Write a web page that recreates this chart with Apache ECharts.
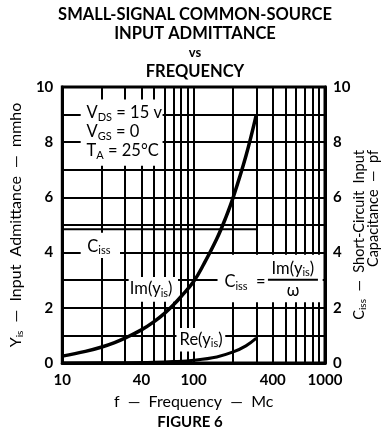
<!DOCTYPE html>
<html>
<head>
<meta charset="utf-8">
<script src="https://cdn.jsdelivr.net/npm/echarts@6/dist/echarts.min.js"></script>
<style>
html,body{margin:0;padding:0;background:#fff;}
#chart{width:383px;height:430px;}
</style>
</head>
<body>
<div id="chart"></div>
<script>
// ---- data ----
const imFreq   = [10, 15, 20, 25, 30, 40, 50, 60, 70, 80, 100, 120, 150, 175, 200, 250, 300];
const imValues = [0.25, 0.42, 0.58, 0.74, 0.9, 1.2, 1.5, 1.8, 2.1, 2.4, 2.95, 3.6, 4.5, 5.25, 6.0, 7.5, 9.0];
const reFreq   = [10, 30, 50, 70, 100, 150, 200, 250, 300];
const reValues = [0.0, 0.01, 0.025, 0.05, 0.1, 0.22, 0.4, 0.62, 0.9];
const cissFreq   = [10, 300];
const cissValues = [4.85, 4.85];
const xGridLines = [20, 30, 40, 50, 60, 70, 80, 90, 100, 200, 300, 400, 500, 600, 700, 800, 900];
const yGridLines = [1, 2, 3, 4, 5, 6, 7, 8, 9];
const xTickLabels = [10, 40, 100, 400, 1000];
const yTickLabels = [0, 2, 4, 6, 8, 10];

const FONT = 'Lato';
const INK = '#000';
const sub = {fontSize: 11, fontFamily: FONT, color: INK, opacity: 1, textBorderWidth: 0, padding: [8, 0, 0, 0]};
const nrm = {fontSize: 16.5, fontFamily: FONT, color: INK, opacity: 1, textBorderWidth: 0};
const axName = {fontSize: 16, fontFamily: FONT, color: INK};
const axSub = {fontSize: 10, fontFamily: FONT, color: INK, padding: [8, 0, 0, 0]};

const chart = echarts.init(document.getElementById('chart'), null, {renderer: 'canvas'});

const pairs = (xs, ys) => xs.map((x, i) => [x, ys[i]]);

// white label boxes that hide the grid behind the annotations (data space corners)
const whiteBoxes = [
  [[13.8, 9.55], [58, 7.15]],
  [[13.8, 4.72], [27.5, 3.8]],
  [[32, 3.12], [76, 2.22]],
  [[74, 1.27], [174, 0.42]],
  [[152, 3.92], [960, 2.2]]
];

const annotations = [
  { // conditions
    value: [15.3, 8.37],
    label: {
      position: 'right', distance: 0,
      formatter: '{n|V}{s|DS}{n| = 15 v}\n{n|V}{s|GS}{n| = 0}\n{n|T}{s|A}{n| = 25°C}',
      lineHeight: 19,
      rich: {n: Object.assign({}, nrm, {lineHeight: 19}), s: Object.assign({}, sub)}
    }
  },
  { // Ciss label
    value: [15.5, 4.22],
    label: {position: 'right', distance: 0, formatter: '{n|C}{s|iss}', rich: {n: nrm, s: sub}}
  },
  { // Im(yis)
    value: [47.5, 2.68],
    label: {position: 'inside', formatter: '{n|Im(y}{s|is}{n|)}', rich: {n: nrm, s: sub}}
  },
  { // Re(yis)
    value: [114, 0.86],
    label: {position: 'inside', formatter: '{n|Re(y}{s|is}{n|)}', rich: {n: nrm, s: sub}}
  },
  { // Ciss =
    value: [246, 2.93],
    label: {position: 'inside', formatter: '{n|C}{s|iss}{n|  =}', rich: {n: nrm, s: sub}}
  },
  { // fraction
    value: [570, 3.02],
    label: {
      position: 'inside', align: 'center',
      formatter: '{n|Im(y}{s|is}{n|)}\n{bar|}\n{w|ω}',
      rich: {
        n: Object.assign({}, nrm, {lineHeight: 16}),
        s: Object.assign({}, sub, {lineHeight: 16}),
        bar: {width: 50, height: 2, backgroundColor: INK, lineHeight: 6},
        w: Object.assign({}, nrm, {lineHeight: 16})
      }
    }
  }
];

const numStyle = {fontFamily: FONT, fontWeight: 'bold', fontSize: 15, color: INK};

const option = {
  animation: false,
  backgroundColor: '#fff',
  title: {
    left: 190, top: 0, textAlign: 'center',
    text: '{t|SMALL-SIGNAL COMMON-SOURCE}\n{t|INPUT ADMITTANCE}\n{v|vs}\n{t|FREQUENCY}',
    textStyle: {
      rich: {
        t: {fontFamily: FONT, fontWeight: 'bold', fontSize: 16.5, color: INK, lineHeight: 19},
        v: {fontFamily: FONT, fontWeight: 'bold', fontSize: 13, color: INK, lineHeight: 19}
      }
    }
  },
  grid: {left: 56, right: 58, top: 87, bottom: 67, show: true, borderColor: INK, borderWidth: 3, backgroundColor: '#fff'},
  xAxis: {
    type: 'log', logBase: 10, min: 10, max: 1000,
    name: 'f  —  Frequency  —  Mc', nameLocation: 'middle', nameGap: 31,
    nameTextStyle: axName,
    axisLine: {show: true, lineStyle: {color: INK, width: 3}},
    axisTick: {show: false},
    axisLabel: Object.assign({customValues: xTickLabels, margin: 10, formatter: v => String(v)}, numStyle),
    splitLine: {show: false},
    minorTick: {show: false}, minorSplitLine: {show: false}
  },
  yAxis: [
    {
      type: 'value', min: 0, max: 10, interval: 1, position: 'left',
      name: '{n|Y}{s|is}{n|  —  Input  Admittance  —  mmho}', nameLocation: 'middle', nameGap: 36,
      nameTextStyle: {rich: {n: axName, s: axSub}},
      axisLine: {show: true, lineStyle: {color: INK, width: 3}},
      axisTick: {show: false},
      axisLabel: Object.assign({
        margin: 9,
        formatter: v => (yTickLabels.indexOf(v) >= 0 ? String(v) : '')
      }, numStyle),
      splitLine: {show: false}
    },
    {
      type: 'value', min: 0, max: 10, interval: 2, position: 'right',
      axisLine: {show: true, lineStyle: {color: INK, width: 3}},
      axisTick: {show: false},
      axisLabel: Object.assign({margin: 8}, numStyle),
      splitLine: {show: false}
    }
  ],
  graphic: [
    {
      type: 'text', x: 366, y: 150, rotation: Math.PI / 2,
      style: {
        text: '{n|C}{s|iss}{n|  —  Short-Circuit  Input}\n{n|Capacitance  —  pf}',
        align: 'right', verticalAlign: 'middle', lineHeight: 14,
        rich: {n: Object.assign({}, axName, {lineHeight: 14, fontSize: 14.5}), s: Object.assign({}, axSub, {lineHeight: 14})}
      }
    },
    {
      type: 'text', x: 190, y: 422,
      style: {text: 'FIGURE 6', align: 'center', verticalAlign: 'middle', fontFamily: FONT, fontWeight: 'bold', fontSize: 15, fill: INK}
    }
  ],
  series: [
    {
      name: 'Ciss', type: 'line', yAxisIndex: 1, z: 3,
      data: pairs(cissFreq, cissValues), symbol: 'none',
      lineStyle: {color: INK, width: 2},
      markLine: {
        z: 2, silent: true, symbol: 'none', label: {show: false},
        lineStyle: {color: INK, width: 2, type: 'solid'},
        data: xGridLines.map(v => ({xAxis: v})).concat(yGridLines.map(v => ({yAxis: v})))
      }
    },
    {
      name: 'Re', type: 'line', z: 4, smooth: 0.4,
      data: pairs(reFreq, reValues), symbol: 'none',
      lineStyle: {color: INK, width: 3}
    },
    {
      name: 'boxes', type: 'line', z: 6, data: [], silent: true,
      markArea: {
        z: 6, silent: true,
        itemStyle: {color: '#fff', opacity: 1},
        label: {show: false},
        data: whiteBoxes.map(b => [{coord: b[0]}, {coord: b[1]}])
      }
    },
    {
      name: 'annotations', type: 'scatter', z: 8, symbolSize: 0, silent: true,
      itemStyle: {opacity: 1},
      label: {show: true, fontFamily: FONT, color: INK, opacity: 1, textBorderWidth: 0},
      data: annotations
    },
    {
      name: 'Im', type: 'line', z: 9, smooth: 0.4,
      data: pairs(imFreq, imValues), symbol: 'none',
      lineStyle: {color: INK, width: 3.5}
    }
  ]
};
chart.setOption(option);
</script>
</body>
</html>
